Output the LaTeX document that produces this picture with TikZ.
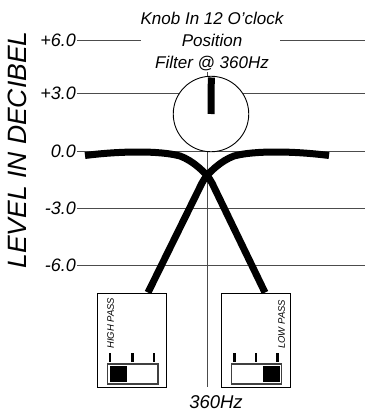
\documentclass[tikz,border=0pt]{standalone}
\usepackage{fontspec}
\setmainfont{Liberation Sans}
\begin{document}
\begin{tikzpicture}[x=1pt,y=-1pt,
  grid/.style={draw=black!70,line width=0.9pt},
  tick/.style={font=\fontsize{18}{20}\selectfont\itshape,anchor=east,inner sep=0pt},
  curve/.style={line width=7pt,line cap=butt,line join=round},
  swbox/.style={draw=black,line width=0.9pt,fill=white,minimum width=69pt,minimum height=94pt,inner sep=0pt},
  swtick/.style={line width=2.4pt},
  swframe/.style={draw=black!75,line width=1.4pt,fill=white},
  swtext/.style={font=\fontsize{9.5}{10}\selectfont\itshape,rotate=90,anchor=west,inner sep=0pt}]
\useasboundingbox (0,0) rectangle (365,412);
% grid lines
\coordinate (g6a) at (77,40); \coordinate (g6b) at (141,40);
\coordinate (g6c) at (280,40); \coordinate (g6d) at (365,40);
\draw[grid] (g6a) -- (g6b) (g6c) -- (g6d);
\foreach \n/\yy in {g3/93,g0/151.5,gm3/208,gm6/265}{
  \coordinate (\n a) at (77,\yy); \coordinate (\n b) at (365,\yy);
  \draw[grid] (\n a) -- (\n b);}
% tick labels
\node[tick] (l6) at (76,40) {+6.0};
\node[tick] (l3) at (76,93) {+3.0};
\node[tick] (l0) at (76,151.5) {0.0};
\node[tick] (lm3) at (76,208) {-3.0};
\node[tick] (lm6) at (76,265) {-6.0};
% axis label
\node[font=\fontsize{26.5}{28}\selectfont\itshape,rotate=90,inner sep=0pt] (axis) at (17.5,150) {LEVEL IN DECIBEL};
% title
\node[font=\fontsize{17}{21.8}\selectfont\itshape,align=center,anchor=north,inner sep=0pt] (title) at (212,12) {Knob In 12 O'clock\\Position\\Filter @ 360Hz};
% vertical line
\coordinate (vtop) at (207,72); \coordinate (vbot) at (207,387);
\draw[grid] (vtop) -- (vbot);
% knob
\node[circle,draw=black,line width=0.9pt,fill=white,minimum size=75.5pt,inner sep=0pt] (knob) at (211,114) {};
\coordinate (ptop) at (211.3,77.5);
\draw[line width=7pt] (ptop) -- (knob.center);
% boxes
\node[swbox] (hp) at (131.5,340) {};
\node[swbox] (lp) at (255.5,340) {};
% curves
\coordinate (lpS) at (85,155.5);
\coordinate (hpS) at (329,155.5);
\draw[curve] (lpS) .. controls (120,151) and (160,150.5) .. (180,156)
  .. controls (192,160.2) and (207,173) .. (212,183) -- ([xshift=9.5pt]lp.north);
\draw[curve] (hpS) .. controls (294,151) and (254,150.5) .. (234,156)
  .. controls (222,160.2) and (207,173) .. (202,183) -- ([xshift=16.5pt]hp.north);
% high pass switch
\foreach \x in {110,132.3,154}{\draw[swtick] (\x,353) -- (\x,362);}
\draw[swframe] (107.5,364) rectangle (158,384);
\fill[black] (109.5,366) rectangle (127.3,382);
\node[swtext] (hpt) at (110.5,349) {HIGH PASS};
% low pass switch
\foreach \x in {234.3,256,277.3}{\draw[swtick] (\x,353) -- (\x,362);}
\draw[swframe] (231.7,364) rectangle (281.7,384);
\fill[black] (263.3,366) rectangle (279.7,382);
\node[swtext] (lpt) at (281.5,349) {LOW PASS};
% frequency label
\node[font=\fontsize{18.5}{20}\selectfont\itshape,inner sep=0pt] (freq) at (216,402.5) {360Hz};
\end{tikzpicture}
\end{document}
